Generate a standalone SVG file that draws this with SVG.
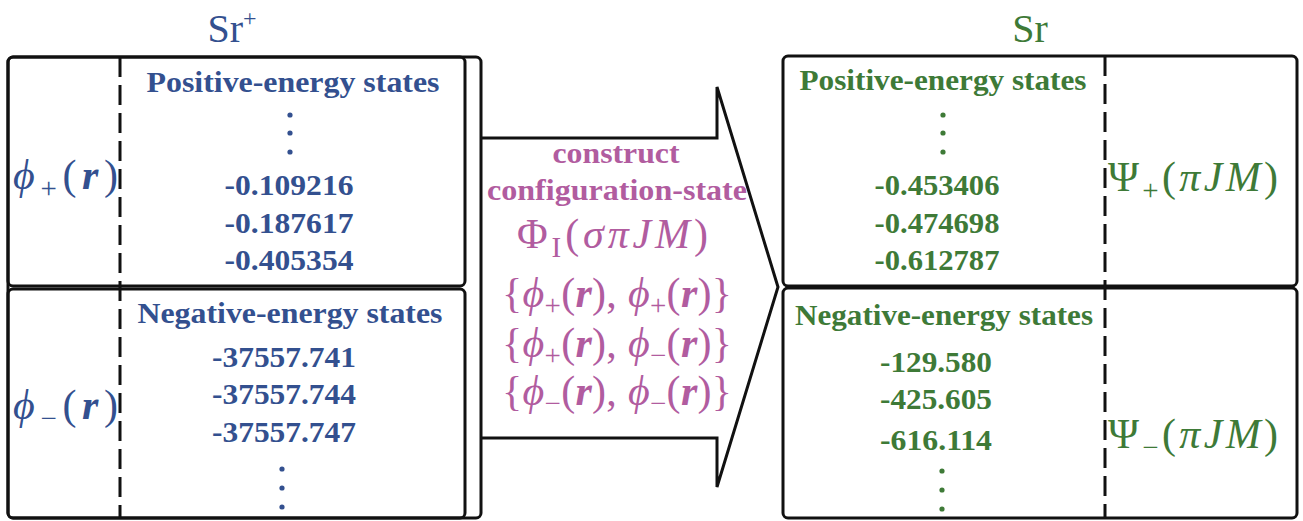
<svg xmlns="http://www.w3.org/2000/svg" width="1303" height="521" viewBox="0 0 1303 521">
<style>
.box{fill:none;stroke:#111;stroke-width:3}
.dash{stroke:#111;stroke-width:3;stroke-dasharray:20 8;fill:none}
.t{font-family:"Liberation Serif","DejaVu Serif",serif;font-weight:bold;font-size:29px;text-anchor:middle}
.m{font-family:"Liberation Serif","DejaVu Serif",serif;font-size:42px}
.title{font-family:"Liberation Serif","DejaVu Serif",serif;font-size:40px;text-anchor:middle}
.blue{fill:#33508f}
.green{fill:#3e7a37}
.mag{fill:#b15c9f}
.i{font-style:italic}
.b{font-weight:bold}
.sub{font-size:29px}
</style>
<rect width="1303" height="521" fill="#fff"/>
<g id="sr-plus">
  <text class="title blue" x="232" y="42">Sr<tspan font-size="24" dy="-16">+</tspan></text>
  <rect class="box" x="8" y="57" width="473" height="461" rx="5"/>
  <rect class="box" x="8" y="57" width="457" height="229" rx="5" fill="#fff"/>
  <rect class="box" x="8" y="289" width="457" height="229" rx="5" fill="#fff"/>
  <line class="dash" x1="120" y1="57" x2="120" y2="518"/>
  <text class="t blue" x="293" y="92" textLength="293" lengthAdjust="spacingAndGlyphs">Positive-energy states</text>
  <g class="blue"><circle cx="290" cy="115" r="2.6"/><circle cx="290" cy="133" r="2.6"/><circle cx="290" cy="152" r="2.6"/></g>
  <text class="t blue" x="289" y="195" textLength="129" lengthAdjust="spacingAndGlyphs">-0.109216</text>
  <text class="t blue" x="289" y="233" textLength="129" lengthAdjust="spacingAndGlyphs">-0.187617</text>
  <text class="t blue" x="289" y="270" textLength="129" lengthAdjust="spacingAndGlyphs">-0.405354</text>
  <text class="m blue" x="13" y="189" textLength="105" lengthAdjust="spacing"><tspan class="i">ϕ</tspan><tspan class="sub" dy="9">+</tspan><tspan dy="-9">(</tspan><tspan class="i b">r</tspan>)</text>
  <text class="t blue" x="290" y="323" textLength="305" lengthAdjust="spacingAndGlyphs">Negative-energy states</text>
  <text class="t blue" x="284" y="367" textLength="144" lengthAdjust="spacingAndGlyphs">-37557.741</text>
  <text class="t blue" x="284" y="404" textLength="144" lengthAdjust="spacingAndGlyphs">-37557.744</text>
  <text class="t blue" x="284" y="442" textLength="144" lengthAdjust="spacingAndGlyphs">-37557.747</text>
  <g class="blue"><circle cx="282" cy="469" r="2.6"/><circle cx="282" cy="488" r="2.6"/><circle cx="282" cy="507" r="2.6"/></g>
  <text class="m blue" x="13" y="419" textLength="105" lengthAdjust="spacing"><tspan class="i">ϕ</tspan><tspan class="sub" dy="9">−</tspan><tspan dy="-9">(</tspan><tspan class="i b">r</tspan>)</text>
</g>
<g id="connectors">
  <polyline class="box" points="481,138 717,138 717,87 778,287 717,487 717,438 481,438"/>
  <text class="t mag" x="616" y="163" textLength="127" lengthAdjust="spacingAndGlyphs">construct</text>
  <text class="t mag" x="617" y="200" textLength="260" lengthAdjust="spacingAndGlyphs">configuration-state</text>
  <text class="m mag" x="517" y="248" textLength="191" lengthAdjust="spacing">Φ<tspan class="sub" dy="9">I</tspan><tspan dy="-9">(</tspan><tspan class="i">σπJM</tspan>)</text>
  <text class="m mag" x="502" y="307" font-size="36" textLength="230" lengthAdjust="spacing">{<tspan class="i">ϕ</tspan><tspan class="sub" dy="8">+</tspan><tspan dy="-8">(</tspan><tspan class="i b">r</tspan>), <tspan class="i">ϕ</tspan><tspan class="sub" dy="8">+</tspan><tspan dy="-8">(</tspan><tspan class="i b">r</tspan>)}</text>
  <text class="m mag" x="502" y="357" font-size="36" textLength="230" lengthAdjust="spacing">{<tspan class="i">ϕ</tspan><tspan class="sub" dy="8">+</tspan><tspan dy="-8">(</tspan><tspan class="i b">r</tspan>), <tspan class="i">ϕ</tspan><tspan class="sub" dy="8">−</tspan><tspan dy="-8">(</tspan><tspan class="i b">r</tspan>)}</text>
  <text class="m mag" x="502" y="405" font-size="36" textLength="230" lengthAdjust="spacing">{<tspan class="i">ϕ</tspan><tspan class="sub" dy="8">−</tspan><tspan dy="-8">(</tspan><tspan class="i b">r</tspan>), <tspan class="i">ϕ</tspan><tspan class="sub" dy="8">−</tspan><tspan dy="-8">(</tspan><tspan class="i b">r</tspan>)}</text>
</g>
<g id="sr">
  <text class="title green" x="1030" y="42">Sr</text>
  <rect class="box" x="783" y="56" width="514" height="230" rx="5" fill="#fff"/>
  <rect class="box" x="783" y="288" width="514" height="230" rx="5" fill="#fff"/>
  <line class="dash" x1="1105" y1="56" x2="1105" y2="518"/>
  <text class="t green" x="943" y="90" textLength="287" lengthAdjust="spacingAndGlyphs">Positive-energy states</text>
  <g class="green"><circle cx="943" cy="115" r="2.6"/><circle cx="943" cy="133" r="2.6"/><circle cx="943" cy="152" r="2.6"/></g>
  <text class="t green" x="937" y="195" textLength="125" lengthAdjust="spacingAndGlyphs">-0.453406</text>
  <text class="t green" x="937" y="233" textLength="125" lengthAdjust="spacingAndGlyphs">-0.474698</text>
  <text class="t green" x="937" y="270" textLength="125" lengthAdjust="spacingAndGlyphs">-0.612787</text>
  <text class="m green" x="1108" y="191" textLength="170" lengthAdjust="spacing">Ψ<tspan class="sub" dy="9">+</tspan><tspan dy="-9">(</tspan><tspan class="i">πJM</tspan>)</text>
  <text class="t green" x="944" y="325" textLength="298" lengthAdjust="spacingAndGlyphs">Negative-energy states</text>
  <text class="t green" x="936" y="372" textLength="112" lengthAdjust="spacingAndGlyphs">-129.580</text>
  <text class="t green" x="936" y="409" textLength="112" lengthAdjust="spacingAndGlyphs">-425.605</text>
  <text class="t green" x="936" y="450" textLength="112" lengthAdjust="spacingAndGlyphs">-616.114</text>
  <g class="green"><circle cx="942" cy="471" r="2.6"/><circle cx="942" cy="490" r="2.6"/><circle cx="942" cy="509" r="2.6"/></g>
  <text class="m green" x="1108" y="448" textLength="170" lengthAdjust="spacing">Ψ<tspan class="sub" dy="9">−</tspan><tspan dy="-9">(</tspan><tspan class="i">πJM</tspan>)</text>
</g>
</svg>
